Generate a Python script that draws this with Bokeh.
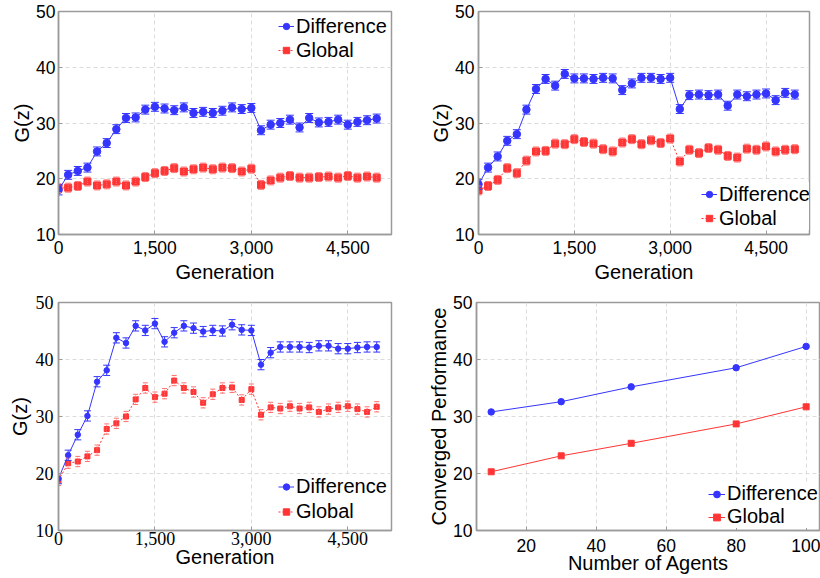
from bokeh.plotting import figure
from bokeh.layouts import column, row
from bokeh.models import (FixedTicker, Legend, LegendItem, Whisker, TeeHead,
                          ColumnDataSource, Range1d)
from bokeh.embed import file_html
from bokeh.resources import INLINE

# ---------------- data ----------------
GEN = [0, 150, 300, 450, 600, 750, 900, 1050, 1200, 1350, 1500, 1650, 1800, 1950,
       2100, 2250, 2400, 2550, 2700, 2850, 3000, 3150, 3300, 3450, 3600, 3750,
       3900, 4050, 4200, 4350, 4500, 4650, 4800, 4950]
GEN_TICKS = [0, 1500, 3000, 4500]
GEN_TICK_LABELS = ["0", "1,500", "3,000", "4,500"]
Y_TICKS = [10, 20, 30, 40, 50]
AGENT_TICKS = [20, 40, 60, 80, 100]

# panel 1
P1_DIFF = [18.0, 20.7, 21.4, 22.0, 24.9, 26.4, 28.9, 30.9, 31.0, 32.4, 32.9, 32.6,
           32.3, 32.8, 31.8, 32.0, 31.8, 32.2, 32.8, 32.5, 32.7, 28.7, 29.7, 30.0,
           30.6, 29.2, 30.9, 30.1, 30.2, 30.6, 29.7, 30.2, 30.5, 30.8]
P1_DIFF_ERR = [0.9, 0.8, 0.8, 0.8, 0.8, 0.8, 0.8, 0.8, 0.8, 0.8, 0.8, 0.8, 0.8, 0.8,
               0.8, 0.8, 0.8, 0.8, 0.8, 0.8, 0.8, 0.8, 0.8, 0.8, 0.8, 0.8, 0.8, 0.8,
               0.8, 0.8, 0.8, 0.8, 0.8, 0.8]
P1_GLOB = [18.3, 18.4, 18.7, 19.5, 18.8, 19.0, 19.5, 18.8, 19.5, 20.3, 21.0, 21.4,
           21.9, 21.3, 21.7, 22.0, 21.7, 22.0, 21.9, 21.3, 21.8, 18.9, 19.7, 20.2,
           20.5, 20.2, 20.2, 20.3, 20.4, 20.2, 20.5, 20.2, 20.4, 20.2]
P1_GLOB_ERR = [0.8, 0.8, 0.8, 0.8, 0.8, 0.8, 0.8, 0.8, 0.8, 0.8, 0.8, 0.8, 0.8, 0.8,
               0.8, 0.8, 0.8, 0.8, 0.8, 0.8, 0.8, 0.8, 0.8, 0.8, 0.8, 0.8, 0.8, 0.8,
               0.8, 0.8, 0.8, 0.8, 0.8, 0.8]

# panel 2
P2_DIFF = [19.0, 22.0, 24.0, 26.8, 28.0, 32.4, 36.1, 37.9, 36.7, 38.8, 38.0, 38.0,
           37.9, 38.1, 38.0, 35.9, 37.1, 38.1, 38.1, 37.9, 38.1, 32.5, 35.0, 35.1,
           35.0, 35.1, 33.1, 35.1, 34.8, 35.1, 35.3, 34.1, 35.4, 35.1]
P2_DIFF_ERR = [0.9, 0.8, 0.8, 0.8, 0.8, 0.8, 0.8, 0.8, 0.8, 0.8, 0.8, 0.8, 0.8, 0.8,
               0.8, 0.8, 0.8, 0.8, 0.8, 0.8, 0.8, 0.8, 0.8, 0.8, 0.8, 0.8, 0.8, 0.8,
               0.8, 0.8, 0.8, 0.8, 0.8, 0.8]
P2_GLOB = [17.9, 18.7, 19.8, 21.9, 21.0, 23.25, 24.9, 25.0, 26.3, 26.2, 27.1, 26.6,
           26.3, 25.3, 24.9, 26.5, 27.1, 26.2, 26.9, 26.4, 27.2, 23.1, 25.2, 24.6,
           25.5, 25.2, 24.1, 23.8, 25.4, 25.2, 25.8, 24.9, 25.2, 25.3]
P2_GLOB_ERR = [0.8, 0.8, 0.8, 0.8, 0.8, 0.8, 0.8, 0.8, 0.8, 0.8, 0.8, 0.8, 0.8, 0.8,
               0.8, 0.8, 0.8, 0.8, 0.8, 0.8, 0.8, 0.8, 0.8, 0.8, 0.8, 0.8, 0.8, 0.8,
               0.8, 0.8, 0.8, 0.8, 0.8, 0.8]

# panel 3
P3_DIFF = [19.1, 23.2, 26.8, 30.1, 36.1, 38.1, 43.8, 42.9, 45.9, 45.1, 46.3, 43.1,
           44.7, 45.9, 45.5, 44.9, 45.1, 45.0, 46.1, 45.2, 45.1, 39.1, 41.2, 42.2,
           42.2, 42.2, 42.1, 42.4, 42.4, 41.9, 41.9, 42.1, 42.2, 42.2]
P3_DIFF_ERR = [0.9, 0.9, 0.9, 0.9, 0.9, 0.9, 0.9, 0.9, 0.9, 0.9, 0.9, 0.9, 0.9, 0.9,
               0.9, 0.9, 0.9, 0.9, 0.9, 0.9, 0.9, 0.9, 0.9, 0.9, 0.9, 0.9, 0.9, 0.9,
               0.9, 0.9, 0.9, 0.9, 0.9, 0.9]
P3_GLOB = [18.8, 21.8, 22.1, 23.0, 24.1, 27.8, 28.8, 30.0, 33.0, 35.0, 33.4, 34.0,
           36.3, 35.0, 34.3, 32.4, 33.9, 35.0, 35.1, 32.9, 34.8, 30.3, 31.6, 31.4,
           31.8, 31.4, 31.6, 30.8, 31.3, 31.6, 31.8, 31.3, 30.8, 31.7]
P3_GLOB_ERR = [0.9, 0.9, 0.9, 0.9, 0.9, 0.9, 0.9, 0.9, 0.9, 0.9, 0.9, 0.9, 0.9, 0.9,
               0.9, 0.9, 0.9, 0.9, 0.9, 0.9, 0.9, 0.9, 0.9, 0.9, 0.9, 0.9, 0.9, 0.9,
               0.9, 0.9, 0.9, 0.9, 0.9, 0.9]

# panel 4
AGENTS = [10, 30, 50, 80, 100]
P4_DIFF = [30.8, 32.6, 35.2, 38.55, 42.3]
P4_GLOB = [20.3, 23.1, 25.3, 28.7, 31.7]

BLUE = "#3535ff"
RED = "#ff3535"
RED_ERR = "#ff7070"
GRAY = "#9a9a9a"
SANS = "Liberation Sans"
SERIF = "Liberation Serif"


def style(p, tick_font, tick_size, xs_m, xs_a, ys_m, ys_a):
    p.outline_line_color = GRAY
    p.outline_line_width = 1.5
    for ax in (p.xaxis, p.yaxis):
        ax.axis_line_color = GRAY
        ax.axis_line_width = 1.5
        ax.major_tick_in = 4
        ax.major_tick_out = 0
        ax.major_tick_line_color = GRAY
        ax.minor_tick_line_color = None
        ax.major_label_text_font = tick_font
        ax.major_label_text_font_size = tick_size
        ax.major_label_text_color = "black"
        ax.axis_label_text_font = SANS
        ax.axis_label_text_font_size = "20px"
        ax.axis_label_text_font_style = "normal"
        ax.axis_label_text_color = "black"
    p.xaxis.major_label_standoff = xs_m
    p.xaxis.axis_label_standoff = xs_a
    p.yaxis.major_label_standoff = ys_m
    p.yaxis.axis_label_standoff = ys_a
    p.yaxis.ticker = FixedTicker(ticks=Y_TICKS)
    p.grid.grid_line_color = "#dcdcdc"
    p.grid.grid_line_dash = "4 3"
    p.grid.grid_line_width = 1


def make_legend(p, items, loc, row_h, glyph_w):
    lg = Legend(items=items, location=loc, padding=0, margin=0, spacing=0,
                label_height=row_h, glyph_height=row_h, glyph_width=glyph_w,
                label_standoff=2, label_text_font=SANS,
                label_text_font_size="20px", label_text_color="black",
                border_line_alpha=0, background_fill_color="white",
                background_fill_alpha=1.0)
    p.add_layout(lg)


def gen_panel(width, height, mb, diff, diff_err, glob, glob_err, tick_font,
              tick_size, stand, msize, leg_loc, row_h, cap):
    p = figure(width=width, height=height, x_range=Range1d(0, 5180),
               y_range=Range1d(10, 50), output_backend="svg",
               toolbar_location=None, min_border_left=mb[0],
               min_border_right=mb[1], min_border_top=mb[2],
               min_border_bottom=mb[3], x_axis_label="Generation",
               y_axis_label="G(z)")
    style(p, tick_font, tick_size, *stand)
    p.xaxis.ticker = FixedTicker(ticks=GEN_TICKS)
    p.xaxis.major_label_overrides = {t: s for t, s in zip(GEN_TICKS, GEN_TICK_LABELS)}

    gsrc = ColumnDataSource(dict(x=GEN, y=glob,
                                 lo=[v - e for v, e in zip(glob, glob_err)],
                                 hi=[v + e for v, e in zip(glob, glob_err)]))
    dsrc = ColumnDataSource(dict(x=GEN, y=diff,
                                 lo=[v - e for v, e in zip(diff, diff_err)],
                                 hi=[v + e for v, e in zip(diff, diff_err)]))

    gw = Whisker(source=gsrc, base="x", upper="hi", lower="lo",
                 line_color=RED_ERR, line_width=1, line_dash="1 1", level="glyph",
                 upper_head=TeeHead(size=cap - 2, line_color=RED_ERR, line_width=1),
                 lower_head=TeeHead(size=cap - 2, line_color=RED_ERR, line_width=1))
    p.add_layout(gw)
    gl = p.line("x", "y", source=gsrc, line_color=RED, line_width=1, line_dash="2 2")
    gs = p.scatter("x", "y", source=gsrc, marker="square", size=msize,
                   fill_color=RED, line_color=RED)

    dw = Whisker(source=dsrc, base="x", upper="hi", lower="lo",
                 line_color=BLUE, line_width=1, level="glyph",
                 upper_head=TeeHead(size=cap, line_color=BLUE, line_width=1),
                 lower_head=TeeHead(size=cap, line_color=BLUE, line_width=1))
    p.add_layout(dw)
    dl = p.line("x", "y", source=dsrc, line_color=BLUE, line_width=1)
    ds = p.scatter("x", "y", source=dsrc, marker="circle", size=msize + 0.5,
                   fill_color=BLUE, line_color=BLUE)

    make_legend(p, [LegendItem(label="Difference", renderers=[dl, ds]),
                    LegendItem(label="Global", renderers=[gl, gs])],
                leg_loc, row_h, 16)
    return p


p1 = gen_panel(420, 290, (58, 29, 11, 56), P1_DIFF, P1_DIFF_ERR, P1_GLOB, P1_GLOB_ERR,
               SANS, "17.5px", (6, 4, 3, 0), 7, (220, 172), 24, 8)
p2 = gen_panel(400, 290, (58, 11, 11, 56), P2_DIFF, P2_DIFF_ERR, P2_GLOB, P2_GLOB_ERR,
               SANS, "17.5px", (6, 4, 4, 0), 7, (223, 4), 24, 8)
p3 = gen_panel(420, 287, (58, 29, 12, 47), P3_DIFF, P3_DIFF_ERR, P3_GLOB, P3_GLOB_ERR,
               SERIF, "18px", (1, -2, 5, 2), 5, (220, 6), 25, 7)

# panel 4
p4 = figure(width=400, height=287, x_range=Range1d(5.8, 104.1),
            y_range=Range1d(10, 50), output_backend="svg", toolbar_location=None,
            min_border_left=56, min_border_right=0, min_border_top=12,
            min_border_bottom=47, x_axis_label="Number of Agents",
            y_axis_label="Converged Performance")
style(p4, SANS, "17.5px", 8, -3, 4, 0)
p4.xaxis.ticker = FixedTicker(ticks=AGENT_TICKS)
dl4 = p4.line(AGENTS, P4_DIFF, line_color=BLUE, line_width=1)
ds4 = p4.scatter(AGENTS, P4_DIFF, marker="circle", size=6.5, fill_color=BLUE,
                 line_color=BLUE)
gl4 = p4.line(AGENTS, P4_GLOB, line_color=RED, line_width=1)
gs4 = p4.scatter(AGENTS, P4_GLOB, marker="square", size=6, fill_color=RED,
                 line_color=RED)
make_legend(p4, [LegendItem(label="Difference", renderers=[dl4, ds4]),
                 LegendItem(label="Global", renderers=[gl4, gs4])],
            (232, 2), 22, 17)

layout = column(row(p1, p2), row(p3, p4))
open("out.html", "w").write(file_html(layout, INLINE))
